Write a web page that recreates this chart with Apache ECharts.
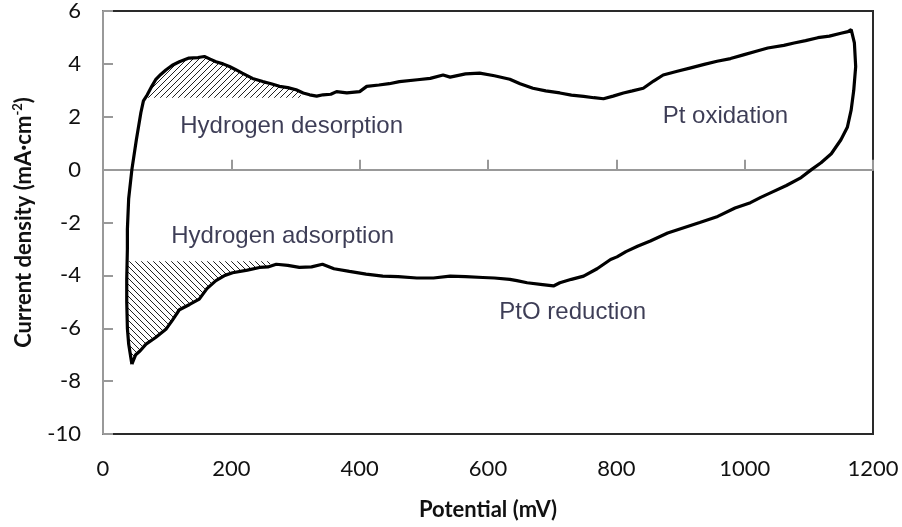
<!DOCTYPE html>
<html>
<head>
<meta charset="utf-8">
<script src="https://cdn.jsdelivr.net/npm/echarts@6/dist/echarts.min.js"></script>
<style>
  html, body { margin: 0; padding: 0; background: #fff; }
  #chart { width: 902px; height: 527px; }
</style>
</head>
<body>
<div id="chart"></div>
<script>
// anodic sweep, from the lower vertex up to the upper vertex  [mV, mA/cm2]
var anodic = [
  [45, -7.36], [40, -6.6], [38, -6.0], [37, -5.0], [37, -4.15], [38, -3.0], [38, -2.26],
  [40, -1.1], [45, 0], [52, 1.13], [59, 2.15], [63, 2.6], [69, 2.83], [76, 3.15],
  [82, 3.4], [90, 3.6], [98, 3.77], [108, 3.95], [119, 4.08], [134, 4.22], [148, 4.24],
  [158, 4.28], [167, 4.18], [176, 4.08], [187, 4.0], [197, 3.9], [207, 3.78], [217, 3.65],
  [233, 3.45], [249, 3.33], [262, 3.25], [275, 3.15], [288, 3.1], [301, 3.02], [312, 2.9],
  [322, 2.83], [333, 2.78], [343, 2.83], [355, 2.85], [364, 2.95], [380, 2.9], [400, 2.95],
  [411, 3.15], [430, 3.2], [446, 3.25], [462, 3.33], [490, 3.4], [510, 3.45], [530, 3.58],
  [541, 3.5], [565, 3.62], [587, 3.65], [610, 3.55], [634, 3.42], [650, 3.25], [670, 3.08],
  [690, 2.98], [712, 2.9], [730, 2.82], [749, 2.77], [765, 2.72], [780, 2.68], [795, 2.78],
  [811, 2.9], [825, 2.98], [842, 3.08], [858, 3.35], [873, 3.58], [895, 3.72], [916, 3.85],
  [937, 3.98], [957, 4.1], [978, 4.2], [998, 4.34], [1018, 4.48], [1036, 4.6], [1061, 4.7],
  [1077, 4.79], [1095, 4.88], [1114, 4.99], [1132, 5.05], [1150, 5.16], [1161, 5.22], [1166, 5.3]
]

// cathodic sweep, from the upper vertex back down to the lower vertex
var cathodic = [
  [1166, 5.3], [1171, 4.79], [1173, 3.9], [1170, 3.0], [1166, 2.26], [1160, 1.6], [1150, 1.13],
  [1135, 0.6], [1119, 0.26], [1104, 0.0], [1088, -0.3], [1065, -0.6], [1041, -0.87], [1025, -1.05],
  [1009, -1.25], [985, -1.45], [958, -1.77], [930, -2.0], [905, -2.2], [880, -2.4], [853, -2.7],
  [833, -2.9], [815, -3.1], [801, -3.3], [791, -3.4], [770, -3.75], [749, -4.03], [730, -4.15],
  [712, -4.28], [702, -4.4], [685, -4.35], [661, -4.28], [645, -4.2], [634, -4.15], [610, -4.1],
  [592, -4.08], [565, -4.05], [541, -4.03], [515, -4.1], [489, -4.1], [460, -4.05], [436, -4.03],
  [410, -3.95], [384, -3.85], [360, -3.75], [342, -3.58], [325, -3.68], [306, -3.7], [288, -3.62],
  [270, -3.58], [257, -3.68], [244, -3.7], [225, -3.8], [202, -3.9], [190, -4.0], [176, -4.2],
  [162, -4.5], [150, -4.9], [135, -5.1], [119, -5.3], [108, -5.7], [98, -6.04], [82, -6.35],
  [67, -6.6], [58, -6.85], [51, -7.0], [45, -7.36]
]

// shaded hydrogen regions: flat edge value and x range
var desorptionBase = 2.72
var desorptionRange = [68, 311]
var adsorptionBase = -3.47
var adsorptionRange = [37, 264]

var xTicks = [0, 200, 400, 600, 800, 1000, 1200]
var yTicks = [-10, -8, -6, -4, -2, 0, 2, 4, 6]

var noteText = ['Hydrogen desorption', 'Hydrogen adsorption', 'Pt oxidation', 'PtO reduction']
var noteX = [294, 280, 970, 732]
var noteY = [1.62, -2.53, 2.0, -5.4]

function hatch(dir) {
  var c = document.createElement('canvas')
  var s = 6
  c.width = s
  c.height = s
  var ctx = c.getContext('2d')
  ctx.strokeStyle = '#222'
  ctx.lineWidth = 1
  ctx.beginPath()
  if (dir === '/') {
    ctx.moveTo(-1, s + 1); ctx.lineTo(s + 1, -1)
    ctx.moveTo(-1, 1); ctx.lineTo(1, -1)
    ctx.moveTo(s - 1, s + 1); ctx.lineTo(s + 1, s - 1)
  } else {
    ctx.moveTo(-1, -1); ctx.lineTo(s + 1, s + 1)
    ctx.moveTo(s - 1, -1); ctx.lineTo(s + 1, 1)
    ctx.moveTo(-1, s - 1); ctx.lineTo(1, s + 1)
  }
  ctx.stroke()
  return { image: c, repeat: 'repeat' }
}

// desorption polygon: anodic curve above the base, closed along the base
var desorptionPoly = [[desorptionRange[0], desorptionBase]]
anodic.forEach(function(p) {
  if (p[0] > desorptionRange[0] && p[0] < desorptionRange[1] && p[1] >= desorptionBase) {
    desorptionPoly.push(p)
  }
})
desorptionPoly.push([desorptionRange[1], desorptionBase])

// adsorption polygon: cathodic curve below the base, back up the anodic start
var adsorptionPoly = [[adsorptionRange[1], adsorptionBase]]
cathodic.forEach(function(p) {
  if (p[0] < adsorptionRange[1] && p[1] <= adsorptionBase) adsorptionPoly.push(p)
})
anodic.forEach(function(p, i) {
  if (i > 0 && p[0] <= adsorptionRange[0] + 2 && p[1] <= adsorptionBase) adsorptionPoly.push(p)
})
adsorptionPoly.push([adsorptionRange[0], adsorptionBase])

function polygonSeries(points, fill) {
  return {
    type: 'custom',
    xAxisIndex: 0,
    yAxisIndex: 0,
    silent: true,
    z: 1,
    data: [[points[0][0], points[0][1]]],
    renderItem: function(params, api) {
      return {
        type: 'polygon',
        shape: { points: points.map(function(p) { return api.coord(p) }) },
        style: { fill: fill, stroke: null }
      }
    }
  }
}

var loop = anodic.concat(cathodic.slice(1))

var chart = echarts.init(document.getElementById('chart'))
chart.setOption({
  animation: false,
  backgroundColor: '#fff',
  grid: {
    left: 103,
    right: 29,
    top: 10,
    bottom: 93,
    show: true,
    borderColor: '#2a2a2a',
    borderWidth: 2
  },
  xAxis: [{
    type: 'value',
    min: xTicks[0],
    max: xTicks[xTicks.length - 1],
    interval: 200,
    name: 'Potential (mV)',
    nameLocation: 'middle',
    nameGap: 65,
    nameTextStyle: { fontFamily: 'Lato', fontWeight: 'bold', fontSize: 22, color: '#111' },
    axisLine: { show: false, onZero: false },
    axisTick: { show: false },
    splitLine: { show: false },
    axisLabel: {
      fontFamily: 'Lato', fontSize: 22, color: '#111', margin: 24,
      formatter: function(v) { return String(v) }
    }
  }, {
    type: 'value',
    position: 'bottom',
    min: xTicks[0],
    max: xTicks[xTicks.length - 1],
    interval: 200,
    axisLine: { show: true, onZero: true, lineStyle: { color: '#999', width: 2 } },
    axisTick: { show: true, inside: true, length: 10, lineStyle: { color: '#999', width: 2 } },
    axisLabel: { show: false },
    splitLine: { show: false }
  }],
  yAxis: {
    type: 'value',
    min: yTicks[0],
    max: yTicks[yTicks.length - 1],
    interval: 2,
    name: '{t|Current density (mA·cm}{s|-2}{t|)}',
    nameLocation: 'middle',
    nameGap: 66,
    nameRotate: 90,
    nameTextStyle: {
      rich: {
        t: { fontFamily: 'Lato', fontWeight: 'bold', fontSize: 22, color: '#111', lineHeight: 26 },
        s: { fontFamily: 'Lato', fontWeight: 'bold', fontSize: 13, color: '#111', verticalAlign: 'top', lineHeight: 26 }
      }
    },
    axisLine: { show: true, onZero: false, lineStyle: { color: '#999', width: 2 } },
    axisTick: { show: true, inside: true, length: 10, lineStyle: { color: '#999', width: 2 } },
    splitLine: { show: false },
    axisLabel: { fontFamily: 'Lato', fontSize: 22, color: '#111', margin: 22 }
  },
  series: [
    polygonSeries(desorptionPoly, hatch('/')),
    polygonSeries(adsorptionPoly, hatch('\\')),
    {
      type: 'line',
      data: loop,
      symbol: 'none',
      smooth: false,
      z: 3,
      lineStyle: { color: '#000', width: 3.2 }
    },
    {
      type: 'scatter',
      symbolSize: 0,
      z: 4,
      silent: true,
      data: noteText.map(function(t, i) { return { name: t, value: [noteX[i], noteY[i]] } }),
      label: {
        show: true,
        position: 'inside',
        formatter: '{b}',
        fontFamily: 'Liberation Sans',
        fontSize: 24,
        color: '#0c0c2c'
      }
    }
  ]
})
</script>
</body>
</html>
